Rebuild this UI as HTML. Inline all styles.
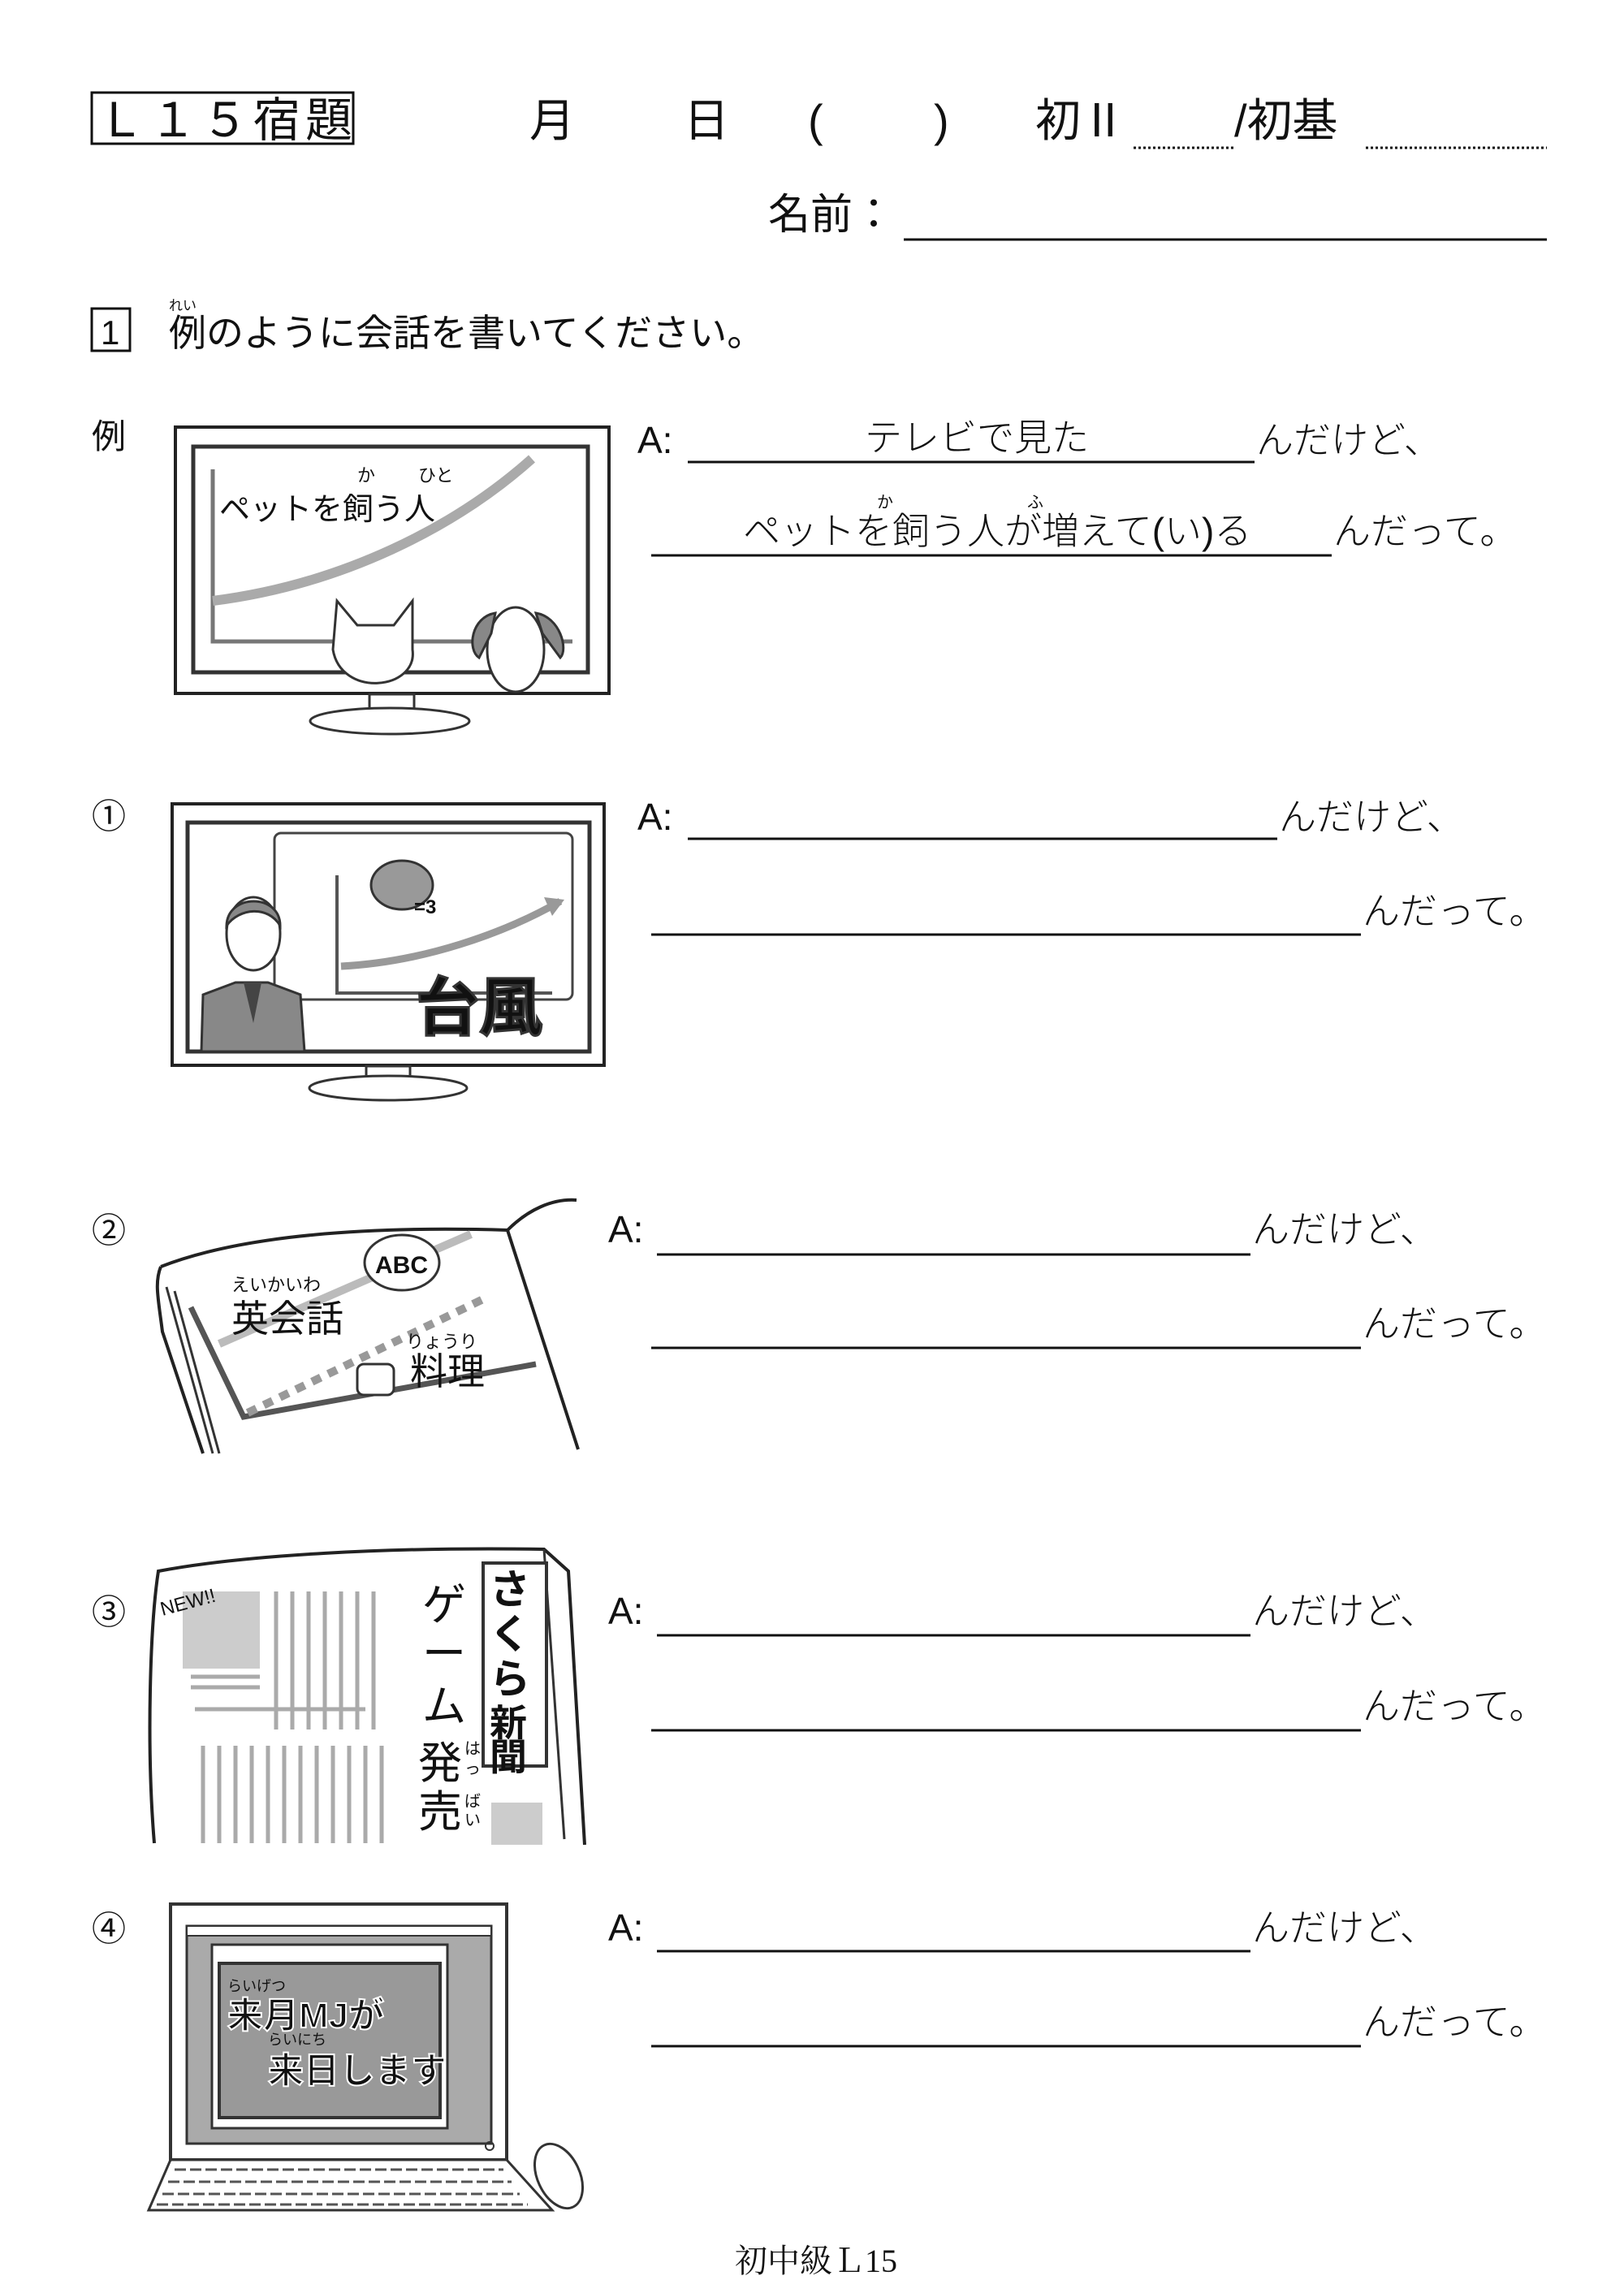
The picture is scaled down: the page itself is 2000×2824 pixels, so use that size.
<!DOCTYPE html>
<html><head><meta charset="utf-8"><style>
html,body{margin:0;padding:0;background:#fff}
svg{display:block}
text{font-family:"Liberation Sans","Noto Sans CJK JP",sans-serif;fill:#111}
.t{font-size:46px;font-weight:300}
.s{font-family:"Liberation Serif","Noto Serif CJK SC",serif}
</style></head><body>
<svg width="2000" height="2824" viewBox="0 0 2000 2824" xmlns="http://www.w3.org/2000/svg">
<!-- header -->
<rect x="113" y="114" width="322" height="63" fill="none" stroke="#111" stroke-width="3"/>
<text x="120" y="168" font-size="58" letter-spacing="6">Ｌ１５宿題</text>
<text x="652" y="168" font-size="56">月</text>
<text x="842" y="168" font-size="56">日</text>
<text x="995" y="168" font-size="56">(</text>
<text x="1150" y="168" font-size="56">)</text>
<text x="1275" y="168" font-size="56">初Ⅱ</text>
<line x1="1396" y1="182" x2="1522" y2="182" stroke="#111" stroke-width="3" stroke-dasharray="3,3"/>
<text x="1520" y="168" font-size="56">/初基</text>
<line x1="1682" y1="182" x2="1905" y2="182" stroke="#111" stroke-width="3" stroke-dasharray="3,3"/>
<text x="946" y="282" font-size="52">名前：</text>
<line x1="1113" y1="295" x2="1905" y2="295" stroke="#111" stroke-width="3"/>
<!-- instruction -->
<rect x="113" y="380" width="47" height="52" fill="none" stroke="#111" stroke-width="3"/>
<text x="124" y="424" font-size="42">1</text>
<text x="208" y="382" font-size="17">れい</text>
<text x="208" y="426" font-size="46">例のように会話を書いてください。</text>
<!-- example -->
<text x="113" y="552" font-size="42">例</text>
<rect x="216" y="526" width="534" height="328" fill="none" stroke="#222" stroke-width="4"/>
<rect x="238" y="550" width="486" height="278" fill="none" stroke="#333" stroke-width="5"/>
<path d="M262 578 V790 H705" fill="none" stroke="#777" stroke-width="5"/>
<path d="M262 740 C420 720 560 650 655 565" fill="none" stroke="#aaa" stroke-width="12"/>
<text x="440" y="593" font-size="22">か</text><text x="515" y="593" font-size="22">ひと</text>
<text x="270" y="640" font-size="38">ペットを飼う人</text>
<path d="M410 800 L415 740 L440 770 L485 770 L508 740 L508 800 C515 850 420 860 410 800Z" fill="#fff" stroke="#333" stroke-width="3"/>
<ellipse cx="635" cy="800" rx="35" ry="52" fill="#fff" stroke="#333" stroke-width="3"/>
<path d="M610 755 C580 760 575 800 590 810 L605 780Z M660 755 C690 760 700 800 690 810 L668 780Z" fill="#888" stroke="#333" stroke-width="3"/>
<rect x="455" y="855" width="55" height="25" fill="#fff" stroke="#333" stroke-width="3"/>
<ellipse cx="480" cy="888" rx="98" ry="16" fill="#fff" stroke="#333" stroke-width="3"/>
<text x="785" y="558" class="t">A:</text>
<line x1="847" y1="569" x2="1545" y2="569" stroke="#111" stroke-width="3"/>
<text x="1065" y="555" class="t">テレビで見た</text>
<text x="1547" y="558" class="t">んだけど、</text>
<text x="1080" y="625" font-size="20">か</text><text x="1265" y="625" font-size="20">ふ</text>
<text x="915" y="670" class="t">ペットを飼う人が増えて(い)る</text>
<line x1="802" y1="684" x2="1640" y2="684" stroke="#111" stroke-width="3"/>
<text x="1642" y="670" class="t">んだって。</text>
<!-- item1 -->
<text x="113" y="1020" font-size="42">①</text>
<rect x="212" y="990" width="532" height="322" fill="none" stroke="#222" stroke-width="4"/>
<rect x="231" y="1013" width="495" height="282" fill="none" stroke="#333" stroke-width="5"/>
<rect x="338" y="1026" width="367" height="205" rx="8" fill="#fff" stroke="#444" stroke-width="3"/>
<path d="M415 1078 V1223 H680" fill="none" stroke="#555" stroke-width="4"/>
<path d="M420 1190 C520 1185 620 1150 690 1110" fill="none" stroke="#999" stroke-width="9"/>
<path d="M670 1105 L695 1108 L680 1128" fill="#999"/>
<ellipse cx="495" cy="1090" rx="38" ry="30" fill="#999" stroke="#333" stroke-width="3"/>
<text x="510" y="1125" font-size="24" font-weight="bold">=3</text>
<path d="M248 1295 L250 1225 L290 1210 L330 1210 L370 1225 L375 1295Z" fill="#888" stroke="#333" stroke-width="3"/>
<path d="M300 1210 L312 1260 L322 1210Z" fill="#444"/>
<ellipse cx="312" cy="1150" rx="33" ry="45" fill="#fff" stroke="#333" stroke-width="3"/>
<path d="M279 1140 C280 1100 345 1100 345 1140 C330 1115 295 1118 279 1140Z" fill="#888" stroke="#333" stroke-width="3"/>
<text x="512" y="1268" font-size="78" font-weight="bold" fill="#999" stroke="#333" stroke-width="3">台風</text>
<rect x="451" y="1313" width="54" height="22" fill="#fff" stroke="#333" stroke-width="3"/>
<ellipse cx="478" cy="1340" rx="97" ry="15" fill="#fff" stroke="#333" stroke-width="3"/>
<text x="785" y="1022" class="t">A:</text>
<line x1="847" y1="1033" x2="1573" y2="1033" stroke="#111" stroke-width="3"/>
<text x="1575" y="1022" class="t">んだけど、</text>
<line x1="802" y1="1151" x2="1676" y2="1151" stroke="#111" stroke-width="3"/>
<text x="1678" y="1138" class="t">んだって。</text>
<!-- item2 -->
<text x="113" y="1530" font-size="42">②</text>
<path d="M198 1560 C300 1520 460 1510 625 1515 C650 1490 680 1476 710 1478" fill="none" stroke="#222" stroke-width="4"/>
<path d="M198 1560 C190 1580 195 1600 200 1640 L250 1790" fill="none" stroke="#222" stroke-width="4"/>
<path d="M205 1585 L262 1790 M215 1590 L270 1790" fill="none" stroke="#333" stroke-width="3"/>
<path d="M625 1515 L712 1785" fill="none" stroke="#222" stroke-width="4"/>
<path d="M235 1610 L300 1745 L660 1680" fill="none" stroke="#555" stroke-width="7"/>
<path d="M270 1655 L580 1520" stroke="#bbb" stroke-width="10"/>
<path d="M305 1740 L595 1600" stroke="#999" stroke-width="10" stroke-dasharray="12,10"/>
<text x="285" y="1590" font-size="22">えいかいわ</text>
<text x="285" y="1640" font-size="46">英会話</text>
<ellipse cx="495" cy="1555" rx="46" ry="34" fill="#fff" stroke="#333" stroke-width="3"/>
<text x="462" y="1568" font-size="30" font-weight="bold">ABC</text>
<text x="500" y="1660" font-size="22">りょうり</text>
<text x="505" y="1705" font-size="46">料理</text>
<rect x="440" y="1680" width="45" height="38" rx="8" fill="#fff" stroke="#333" stroke-width="3"/>
<text x="749" y="1530" class="t">A:</text>
<line x1="809" y1="1545" x2="1540" y2="1545" stroke="#111" stroke-width="3"/>
<text x="1542" y="1530" class="t">んだけど、</text>
<line x1="802" y1="1660" x2="1676" y2="1660" stroke="#111" stroke-width="3"/>
<text x="1678" y="1646" class="t">んだって。</text>
<!-- item3 -->
<text x="113" y="2000" font-size="42">③</text>
<path d="M190 2270 C180 2150 185 2000 195 1935 C300 1915 480 1905 670 1908 L700 1935 L720 2272" fill="none" stroke="#222" stroke-width="4"/>
<path d="M670 1908 L695 2265" fill="none" stroke="#333" stroke-width="3"/>
<rect x="225" y="1960" width="95" height="95" fill="#ccc"/>
<text x="200" y="1990" font-size="24" fill="#888" transform="rotate(-15 200 1990)">NEW!!</text>
<g stroke="#aaa" stroke-width="5">
<path d="M340 1960V2130M360 1960V2130M380 1960V2130M400 1960V2130M420 1960V2130M440 1960V2130M460 1960V2130"/>
<path d="M250 2150V2270M270 2150V2270M290 2150V2270M310 2150V2270M330 2150V2270M350 2150V2270M370 2150V2270M390 2150V2270M410 2150V2270M430 2150V2270M450 2150V2270M470 2150V2270"/>
<path d="M235 2065H320M235 2078H320M240 2105H450"/>
</g>
<rect x="595" y="1925" width="78" height="250" fill="#fff" stroke="#333" stroke-width="4"/>
<text x="603" y="1975" font-size="50" font-weight="bold">さ</text>
<text x="603" y="2030" font-size="50" font-weight="bold">く</text>
<text x="603" y="2085" font-size="50" font-weight="bold">ら</text>
<text x="603" y="2138" font-size="46" font-weight="bold">新</text>
<text x="603" y="2180" font-size="46" font-weight="bold">聞</text>
<rect x="605" y="2220" width="63" height="52" fill="#ccc"/>
<text x="520" y="1995" font-size="54">ゲ</text>
<text x="520" y="2055" font-size="54">ー</text>
<text x="520" y="2120" font-size="54">ム</text>
<text x="515" y="2190" font-size="54">発</text>
<text x="515" y="2250" font-size="54">売</text>
<text x="572" y="2160" font-size="20">は</text><text x="572" y="2185" font-size="20">っ</text>
<text x="572" y="2225" font-size="20">ば</text><text x="572" y="2248" font-size="20">い</text>
<text x="749" y="2000" class="t">A:</text>
<line x1="809" y1="2014" x2="1540" y2="2014" stroke="#111" stroke-width="3"/>
<text x="1542" y="2000" class="t">んだけど、</text>
<line x1="802" y1="2131" x2="1676" y2="2131" stroke="#111" stroke-width="3"/>
<text x="1678" y="2117" class="t">んだって。</text>
<!-- item4 -->
<text x="113" y="2390" font-size="42">④</text>
<rect x="210" y="2345" width="414" height="315" fill="#fff" stroke="#333" stroke-width="4"/>
<rect x="230" y="2372" width="375" height="268" fill="#aaa" stroke="#333" stroke-width="3"/>
<rect x="230" y="2372" width="375" height="12" fill="#fff" stroke="#333" stroke-width="2"/>
<rect x="261" y="2395" width="290" height="226" fill="#fff" stroke="#333" stroke-width="3"/>
<rect x="270" y="2418" width="272" height="190" fill="#999" stroke="#333" stroke-width="4"/>
<text x="280" y="2452" font-size="18" fill="#fff">らいげつ</text>
<text x="280" y="2497" font-size="44" font-weight="bold" fill="#444" stroke="#fff" stroke-width="2">来月MJが</text>
<text x="330" y="2518" font-size="18" fill="#fff">らいにち</text>
<text x="330" y="2565" font-size="44" font-weight="bold" fill="#444" stroke="#fff" stroke-width="2">来日します</text>
<circle cx="603" cy="2643" r="5" fill="none" stroke="#333" stroke-width="2"/>
<path d="M210 2660 L183 2722 L680 2722 L624 2660Z" fill="#fff" stroke="#333" stroke-width="3"/>
<g stroke="#555" stroke-width="3" stroke-dasharray="14,5">
<path d="M215 2672H620M207 2687H630M200 2702H640M193 2715H650"/>
</g>
<ellipse cx="688" cy="2680" rx="26" ry="42" transform="rotate(-25 688 2680)" fill="#fff" stroke="#333" stroke-width="3"/>
<text x="749" y="2390" class="t">A:</text>
<line x1="809" y1="2403" x2="1540" y2="2403" stroke="#111" stroke-width="3"/>
<text x="1542" y="2390" class="t">んだけど、</text>
<line x1="802" y1="2520" x2="1676" y2="2520" stroke="#111" stroke-width="3"/>
<text x="1678" y="2506" class="t">んだって。</text>
<!-- footer -->
<text x="905" y="2798" font-size="40" class="s">初中級Ｌ15</text>
</svg>
</body></html>
